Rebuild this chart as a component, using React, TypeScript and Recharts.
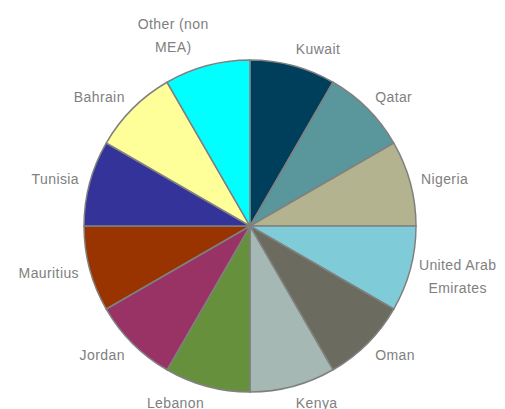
import React from 'react';
import { PieChart, Pie, Cell } from 'recharts';

const COUNTRIES = [
  'Kuwait',
  'Qatar',
  'Nigeria',
  'United Arab Emirates',
  'Oman',
  'Kenya',
  'Lebanon',
  'Jordan',
  'Mauritius',
  'Tunisia',
  'Bahrain',
  'Other (non MEA)',
];

const SHARES = [1, 1, 1, 1, 1, 1, 1, 1, 1, 1, 1, 1];

// how the two long names wrap in the reference
const WRAPPED: Record<string, string[]> = {
  'United Arab Emirates': ['United Arab', 'Emirates'],
  'Other (non MEA)': ['Other (non', 'MEA)'],
};

const COLORS = [
  '#003f5c', '#5a979c', '#b3b38f', '#80cbd8',
  '#6b6b5f', '#a6b8b3', '#66903c', '#993366',
  '#993300', '#333399', '#ffff99', '#00ffff',
];

const data = COUNTRIES.map((name, i) => ({ name, value: SHARES[i] }));

const RADIAN = Math.PI / 180;
const LINE_H = 23;

const renderLabel = (props: any) => {
  const { cx, cy, midAngle, outerRadius, name } = props;
  const r = outerRadius + 11;
  const cos = Math.cos(-midAngle * RADIAN);
  const sin = Math.sin(-midAngle * RADIAN);
  const px = cx + r * cos;
  const py = cy + r * sin;
  const lines = WRAPPED[name] || [name];
  const h = lines.length === 1 ? 12 : 40;
  // sin<0 means upper half: push label upward
  const centerY = py + sin * (h / 2);
  const startY = centerY - ((lines.length - 1) * LINE_H) / 2;

  let anchor: 'start' | 'end' | 'middle' = 'middle';
  let x = px;
  if (lines.length > 1) {
    const w = Math.max(...lines.map(l => l.length)) * 7.4;
    x = cos > 0 ? px + w / 2 - 4 : px - w / 2 + 6;
  } else if (cos > 0.05) {
    anchor = 'start';
  } else if (cos < -0.05) {
    anchor = 'end';
  }

  return (
    <text
      x={x}
      y={startY}
      textAnchor={anchor}
      dominantBaseline="central"
      fill="#808080"
      fontSize={14}
      letterSpacing={0.4}
      fontFamily="'Liberation Sans', Arial, sans-serif"
    >
      {lines.map((l, i) => (
        <tspan key={i} x={x} y={startY + i * LINE_H}>
          {l}
        </tspan>
      ))}
    </text>
  );
};

export default function App() {
  return (
    <div style={{ position: 'absolute', left: 0, top: 0, width: 505, height: 409, background: '#fff' }}>
      <PieChart width={505} height={409} margin={{ top: 0, right: 0, bottom: 0, left: 0 }}>
        <Pie
          data={data}
          dataKey="value"
          nameKey="name"
          cx={250}
          cy={226}
          outerRadius={166}
          startAngle={90}
          endAngle={-270}
          stroke="#808080"
          strokeWidth={1.5}
          label={renderLabel}
          labelLine={false}
          isAnimationActive={false}
        >
          {data.map((d, i) => (
            <Cell key={d.name} fill={COLORS[i]} />
          ))}
        </Pie>
      </PieChart>
    </div>
  );
}
